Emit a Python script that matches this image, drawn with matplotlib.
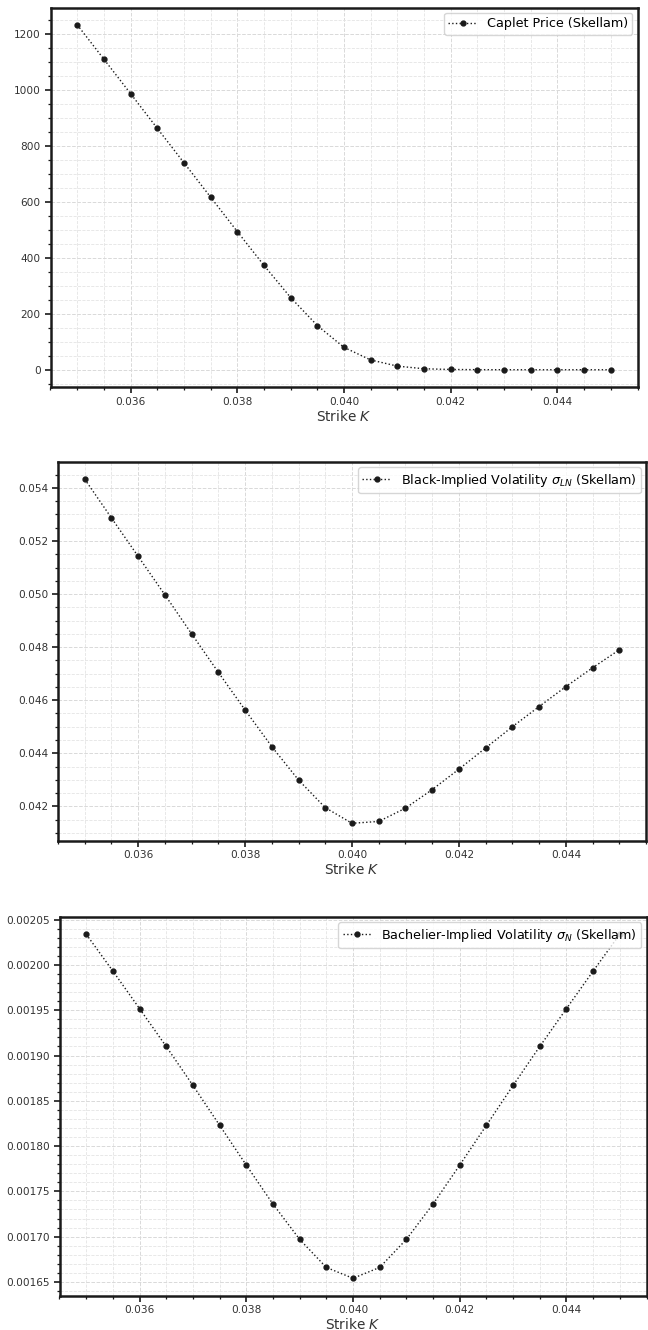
import numpy as np
import matplotlib
matplotlib.use("Agg")
import matplotlib.pyplot as plt
from matplotlib.ticker import AutoMinorLocator

strikes = [0.035, 0.0355, 0.036, 0.0365, 0.037, 0.0375, 0.038, 0.0385, 0.039, 0.0395,
           0.040, 0.0405, 0.041, 0.0415, 0.042, 0.0425, 0.043, 0.0435, 0.044, 0.0445, 0.045]

caplet_price = [1233, 1110, 987, 863, 740, 617, 494, 373, 258, 158,
                80, 35, 13, 3.5, 1.0, 0.3, 0.1, 0.0, 0.0, 0.0, 0.0]

black_vol = [0.05433, 0.05287, 0.05142, 0.04997, 0.04850, 0.04705, 0.04563, 0.04425, 0.04299, 0.04195,
             0.04136, 0.04143, 0.04193, 0.04263, 0.04340, 0.04420, 0.04500, 0.04576, 0.04651, 0.04722, 0.04790]

bachelier_vol = [0.002034, 0.0019933, 0.0019518, 0.0019100, 0.0018670, 0.0018230, 0.0017790, 0.0017360,
                 0.0016970, 0.0016660, 0.0016540, 0.0016660, 0.0016970, 0.0017360, 0.0017790, 0.0018230,
                 0.0018670, 0.0019100, 0.0019518, 0.0019933, 0.002034]

labels = ["Caplet Price (Skellam)",
          r"Black-Implied Volatility $\sigma_{LN}$ (Skellam)",
          r"Bachelier-Implied Volatility $\sigma_{N}$ (Skellam)"]
series = [caplet_price, black_vol, bachelier_vol]

W, H = 648, 1330
fig = plt.figure(figsize=(W / 100, H / 100), dpi=100)

# pixel boxes: left, right, top, bottom
boxes = [(50.5, 637.5, 7.5, 387.0),
         (58.0, 646.0, 462.0, 840.5),
         (59.5, 646.5, 917.0, 1295.5)]

for (l, r, t, b), ys, lab in zip(boxes, series, labels):
    ax = fig.add_axes([l / W, 1 - b / H, (r - l) / W, (b - t) / H])
    ax.plot(strikes, ys, linestyle=':', marker='o', color='#1a1a1a',
            markersize=3.5, linewidth=1.0, label=lab, zorder=3)
    ax.xaxis.set_minor_locator(AutoMinorLocator())
    ax.yaxis.set_minor_locator(AutoMinorLocator())
    ax.grid(True, which='major', linestyle='--', color='#d9d9d9', linewidth=0.7, zorder=0)
    ax.grid(True, which='minor', linestyle='--', color='#e4e4e4', linewidth=0.6, zorder=0)
    ax.set_axisbelow(True)
    for s in ax.spines.values():
        s.set_linewidth(1.8)
        s.set_color('#1a1a1a')
    ax.tick_params(which='major', direction='out', length=4, width=1.2,
                   labelsize=7.6, labelcolor='#333333', color='#1a1a1a', pad=3)
    ax.tick_params(which='minor', direction='out', length=2.5, width=0.9, color='#1a1a1a')
    ax.set_xticks([0.036, 0.038, 0.040, 0.042, 0.044])
    ax.set_xticklabels(['0.036', '0.038', '0.040', '0.042', '0.044'])
    ax.set_xlabel(r"Strike $K$", fontsize=9.8, color='#333333', labelpad=1.5)
    leg = ax.legend(loc='upper right', fontsize=9.2, frameon=True, fancybox=True,
                    framealpha=0.8, edgecolor='#cccccc', handlelength=2.2,
                    borderaxespad=0.4, borderpad=0.35)

fig.savefig("out.png", dpi=100)
